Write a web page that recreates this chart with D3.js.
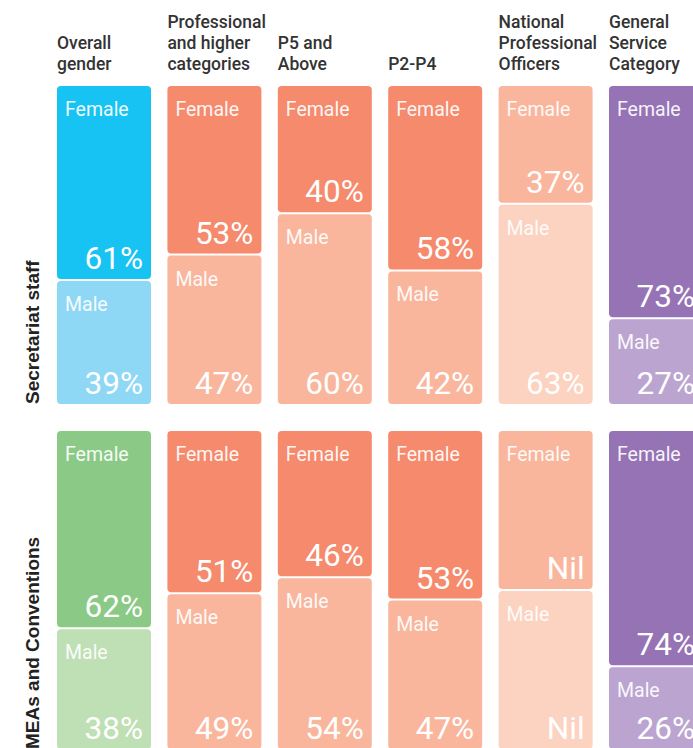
<!DOCTYPE html>
<html><head><meta charset="utf-8">
<script src="https://cdn.jsdelivr.net/npm/d3@7"></script>
<style>
html,body{margin:0;padding:0;background:#fff;overflow:hidden;}
</style></head>
<body>
<script>
const categories = ["Overall gender","Professional and higher categories","P5 and Above","P2-P4","National Professional Officers","General Service Category"];
const headerLines = [["Overall","gender"],["Professional","and higher","categories"],["P5 and","Above"],["P2-P4"],["National","Professional","Officers"],["General","Service","Category"]];
const rowLabels = ["Secretariat staff","MEAs and Conventions"];
const femaleSecretariat = [61,53,40,58,37,73];
const maleSecretariat = [39,47,60,42,63,27];
const femaleMEAs = [62,51,46,53,null,74];
const maleMEAs = [38,49,54,47,null,26];
const femaleColors = [["#16C3F2","#F58A6D","#F58A6D","#F58A6D","#F9B69D","#9673B5"],["#8BC986","#F58A6D","#F58A6D","#F58A6D","#F9B69D","#9673B5"]];
const maleColors = [["#8ED8F6","#F9B69D","#F9B69D","#F9B69D","#FCD2C1","#BBA5D0"],["#BFDFB5","#F9B69D","#F9B69D","#F9B69D","#FCD2C1","#BBA5D0"]];

const W = 693, H = 748;
const svg = d3.select("body").append("svg").attr("width",W).attr("height",H);

const x = d3.scaleBand().domain(categories).range([57, 703]).paddingInner(0.1486).paddingOuter(0);
const rowTops = [86, 431];
const rowH = 318;
const rows = [
  {female: femaleSecretariat, male: maleSecretariat},
  {female: femaleMEAs, male: maleMEAs}
];

// headers
const lh = 21;
categories.forEach((c,i)=>{
  const lines = headerLines[i];
  const t = svg.append("text").attr("x", x(c)).attr("font-family","Roboto").attr("font-weight",500)
    .attr("font-size",17.5).attr("fill","#333");
  lines.forEach((l,j)=>{
    t.append("tspan").attr("x",x(c)).attr("y", 70 - (lines.length-1-j)*lh).text(l);
  });
});

rows.forEach((r,ri)=>{
  const y = d3.scaleLinear().domain([0,100]).range([rowTops[ri], rowTops[ri]+rowH]);
  const g = svg.append("g");
  categories.forEach((c,i)=>{
    const f = r.female[i], m = r.male[i];
    const nil = (f === null);
    const fv = nil ? 50 : f;
    const x0 = x(c), bw = x.bandwidth();
    const fTop = y(0), fBot = y(fv) - 1;
    const mTop = y(fv) + 1, mBot = y(100);
    g.append("rect").attr("x",x0).attr("y",fTop).attr("width",bw).attr("height",fBot-fTop)
      .attr("rx",4).attr("fill",femaleColors[ri][i]);
    g.append("rect").attr("x",x0).attr("y",mTop).attr("width",bw).attr("height",mBot-mTop)
      .attr("rx",4).attr("fill",maleColors[ri][i]);
    const lab = (sel)=>sel.attr("font-family","Roboto").attr("fill","#fff");
    g.append("text").call(lab).attr("x",x0+8).attr("y",fTop+30).attr("font-size",19.5).attr("opacity",0.92).text("Female");
    g.append("text").call(lab).attr("x",x0+8).attr("y",mTop+30).attr("font-size",19.5).attr("opacity",0.92).text("Male");
    g.append("text").call(lab).attr("x",x0+bw-8).attr("y",fBot-10).attr("text-anchor","end").attr("font-size",31.5)
      .text(nil ? "Nil" : f+"%");
    g.append("text").call(lab).attr("x",x0+bw-8).attr("y",mBot-10).attr("text-anchor","end").attr("font-size",31.5)
      .text(nil ? "Nil" : m+"%");
  });
  svg.append("text").attr("transform",`translate(39,${rowTops[ri]+rowH}) rotate(-90)`)
    .attr("font-family","Liberation Sans, Arial, sans-serif").attr("font-weight","bold").attr("font-size",19)
    .attr("fill","#222").text(rowLabels[ri]);
});
</script>
</body></html>
